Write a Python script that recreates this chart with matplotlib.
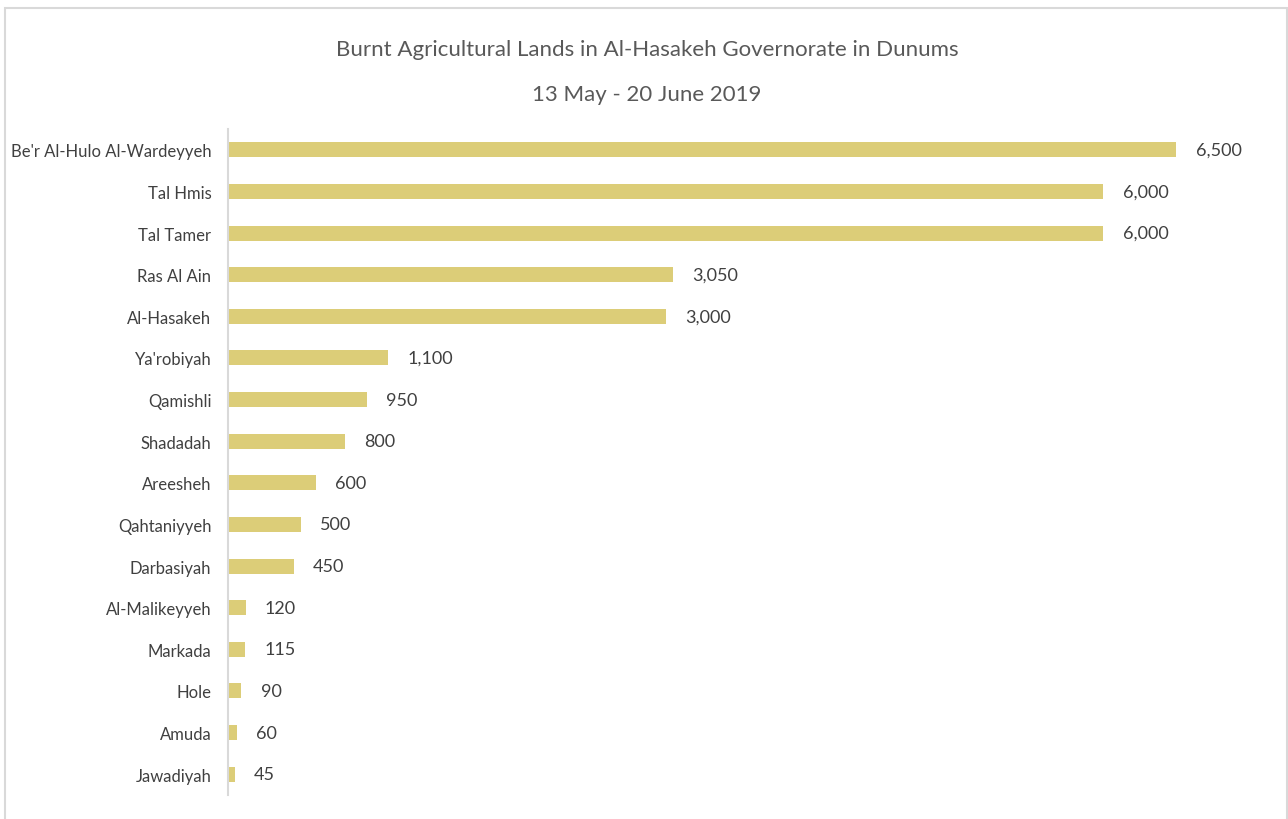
import matplotlib.pyplot as plt
from matplotlib.patches import Rectangle

districts = ["Be'r Al-Hulo Al-Wardeyyeh", 'Tal Hmis', 'Tal Tamer', 'Ras Al Ain', 'Al-Hasakeh',
             "Ya'robiyah", 'Qamishli', 'Shadadah', 'Areesheh', 'Qahtaniyyeh', 'Darbasiyah',
             'Al-Malikeyyeh', 'Markada', 'Hole', 'Amuda', 'Jawadiyah']
dunums = [6500, 6000, 6000, 3050, 3000, 1100, 950, 800, 600, 500, 450, 120, 115, 90, 60, 45]

title = 'Burnt Agricultural Lands in Al-Hasakeh Governorate in Dunums'
subtitle = '13 May - 20 June 2019'

plt.rcParams['font.family'] = ['Lato', 'DejaVu Sans']

fig = plt.figure(figsize=(12.88, 8.2), dpi=100)
ax = fig.add_axes([228 / 1288, 1 - 796 / 820, (1249 - 228) / 1288, 666 / 820])

pos = list(range(len(districts)))
bars = ax.barh(pos, dunums, height=0.36, color='#DCCD78')
ax.set_ylim(len(districts) - 0.5, -0.5)
ax.set_xlim(0, 7000)
ax.set_yticks(pos)
ax.set_yticklabels(districts, fontsize=12, color='#404040')
ax.tick_params(axis='y', length=0, pad=12)
ax.set_xticks([])

for s in ['top', 'right', 'bottom']:
    ax.spines[s].set_visible(False)
ax.spines['left'].set_color('#D9D9D9')
ax.spines['left'].set_linewidth(1.5)

for b, v in zip(bars, dunums):
    ax.annotate(f'{v:,}', (b.get_width(), b.get_y() + b.get_height() / 2),
                xytext=(14, 0), textcoords='offset points', ha='left', va='center',
                fontsize=13, color='#404040')

fig.text(647 / 1288, 1 - 50 / 820, title, ha='center', va='center', fontsize=16, color='#595959')
fig.text(647 / 1288, 1 - 95 / 820, subtitle, ha='center', va='center', fontsize=16, color='#595959')

# outer chart frame
fig.patches.append(Rectangle((5 / 1288, -0.05), (1287 - 5) / 1288, 1.05 - 9 / 820,
                             transform=fig.transFigure, fill=False,
                             edgecolor='#D9D9D9', linewidth=1.5))

fig.savefig('out.png', dpi=100, facecolor='white')
